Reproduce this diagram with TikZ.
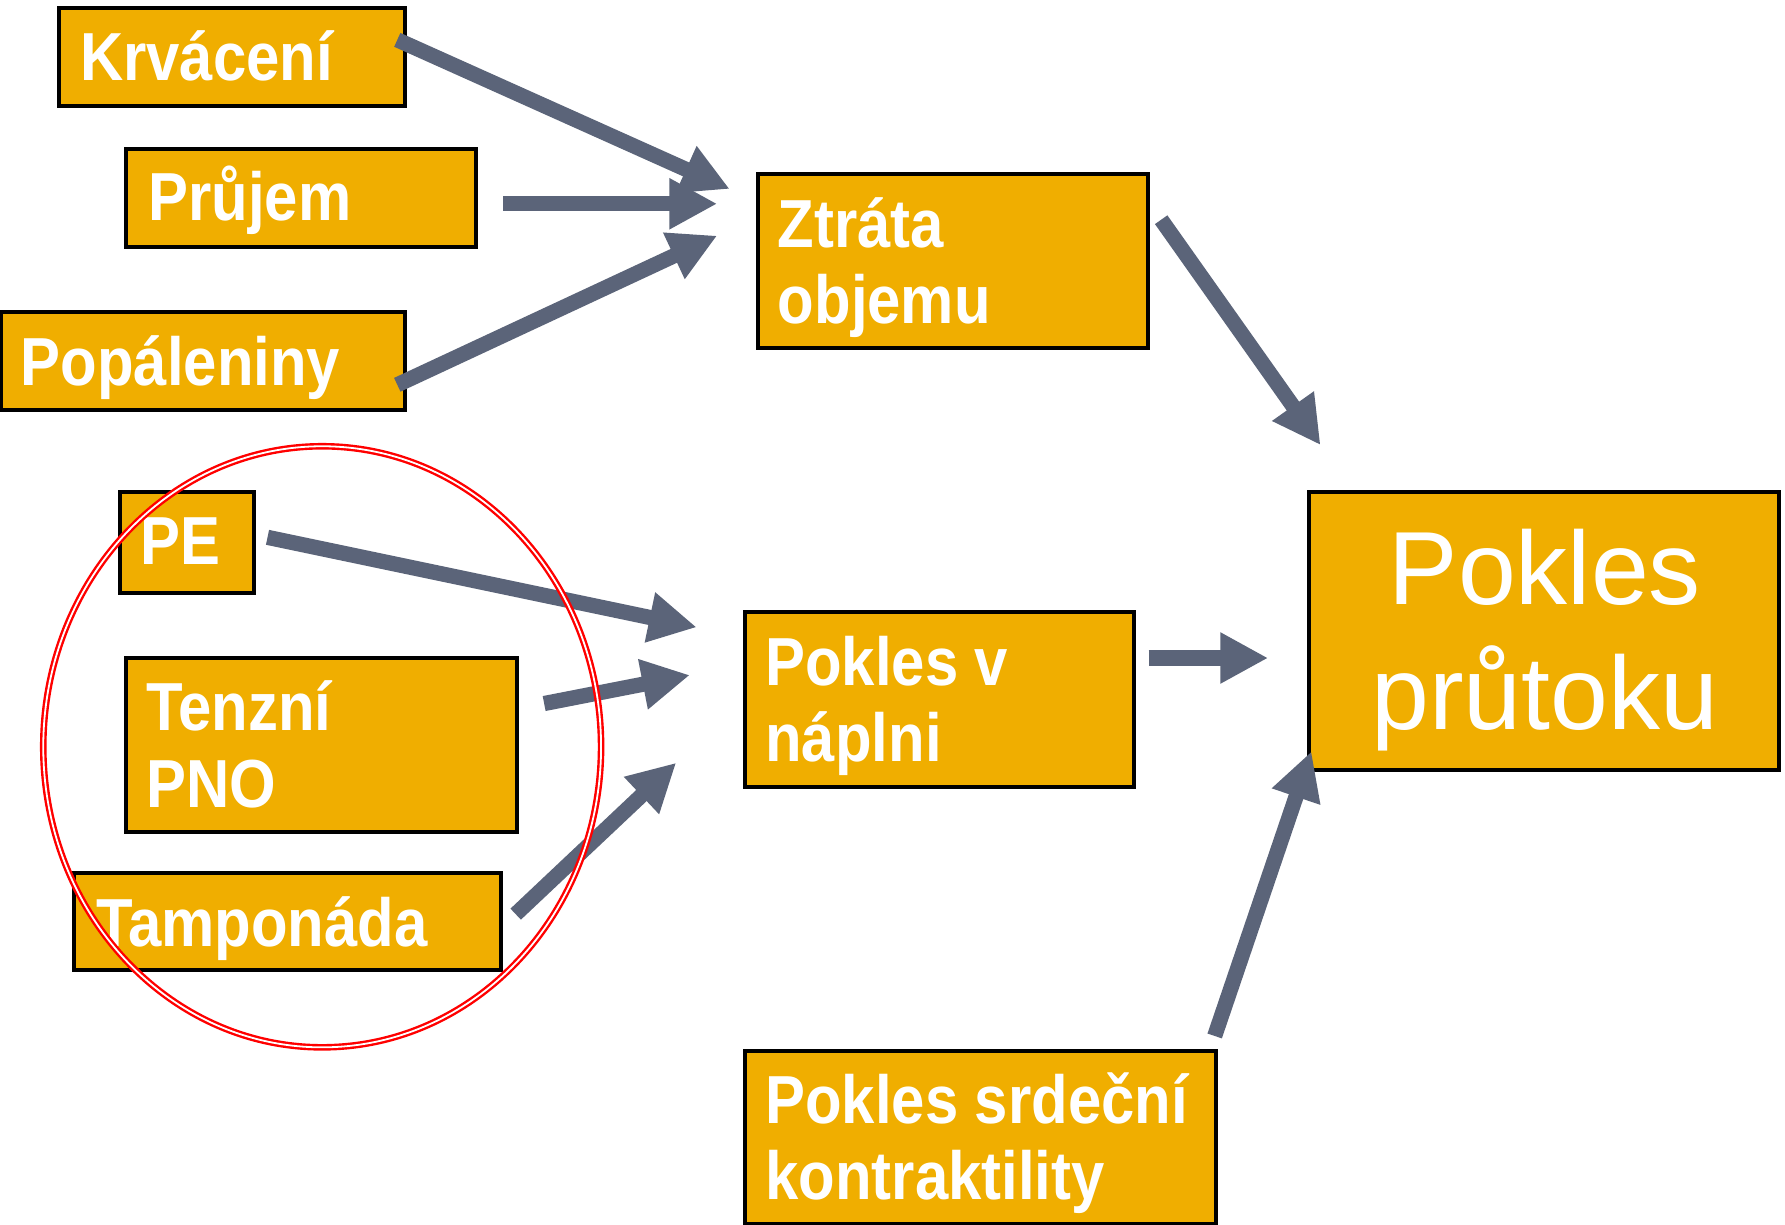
\documentclass[tikz,border=0pt]{standalone}
\usepackage{fontspec}
\setmainfont{Liberation Sans}
\newfontfamily\boxfont[FakeStretch=0.88]{Liberation Sans}
\usetikzlibrary{arrows.meta}
\definecolor{boxfill}{HTML}{F0AE00}
\definecolor{arrowgray}{HTML}{5B6479}
\begin{document}
\begin{tikzpicture}[x=0.02cm,y=-0.02cm,
  box/.style={draw=black,line width=2pt,fill=boxfill,anchor=north west,inner sep=0pt,outer sep=0pt},
  lbl/.style={anchor=base west,inner sep=0pt,text=white,align=left,
    font=\boxfont\bfseries\fontsize{34}{38.1}\selectfont},
  biglbl/.style={anchor=base,inner sep=0pt,text=white,align=center,
    font=\fontsize{52}{62.6}\selectfont},
  flow/.style={draw=arrowgray,line width=7.6pt,-{Triangle[length=0.84cm,width=0.84cm]}},
]
\useasboundingbox (0,0) rectangle (1568,1076);
\fill[white] (0,0) rectangle (1568,1076);

% boxes
\node[box,minimum width=304*0.02cm,minimum height=86*0.02cm] (krv) at (52,7) {};
\node[box,minimum width=307*0.02cm,minimum height=86*0.02cm] (pru) at (111,131) {};
\node[box,minimum width=355*0.02cm,minimum height=86*0.02cm] (pop) at (1,274) {};
\node[box,minimum width=342*0.02cm,minimum height=153*0.02cm] (ztr) at (666,153) {};
\node[box,minimum width=118*0.02cm,minimum height=89*0.02cm] (pe) at (105,432) {};
\node[box,minimum width=343*0.02cm,minimum height=153*0.02cm] (ten) at (111,578) {};
\node[box,minimum width=375*0.02cm,minimum height=85*0.02cm] (tam) at (65,767) {};
\node[box,minimum width=342*0.02cm,minimum height=153*0.02cm] (nap) at (654,538) {};
\node[box,minimum width=414*0.02cm,minimum height=152*0.02cm] (srd) at (654,923) {};
\node[box,minimum width=413*0.02cm,minimum height=244*0.02cm] (pro) at (1150,432) {};

% labels (anchor = baseline of last line)
\node[lbl] (krvt) at (70,71) {Krvácení};
\node[lbl] (prut) at (130,194) {Průjem};
\node[lbl] (popt) at (18,339) {Popáleniny};
\node[lbl] (ztrt) at (683,284) {Ztráta\\objemu};
\node[lbl] (pet) at (123,496) {PE};
\node[lbl] (tent) at (128,709) {Tenzní\\PNO};
\node[lbl] (tamt) at (84,831) {Tamponáda};
\node[lbl] (napt) at (672,669) {Pokles v\\náplni};
\node[lbl] (srdt) at (672,1054) {Pokles srdeční\\kontraktility};
\node[biglbl] (prot) at (1357,641) {Pokles\\průtoku};

% arrow end points
\coordinate (a1s) at (349,35);  \coordinate (a1e) at (641,166);
\coordinate (a2s) at (442,179); \coordinate (a2e) at (630,179);
\coordinate (a3s) at (349,338); \coordinate (a3e) at (630,207);
\coordinate (a4s) at (1020,193); \coordinate (a4e) at (1160,391);
\coordinate (a5s) at (235,472); \coordinate (a5e) at (612,551);
\coordinate (a6s) at (478,618); \coordinate (a6e) at (606,593);
\coordinate (a7s) at (453,803); \coordinate (a7e) at (594,670);
\coordinate (a8s) at (1009,578); \coordinate (a8e) at (1114,578);
\coordinate (a9s) at (1067,910); \coordinate (a9e) at (1152,660);

\draw[flow] (a1s) -- (a1e);
\draw[flow] (a2s) -- (a2e);
\draw[flow] (a3s) -- (a3e);
\draw[flow] (a4s) -- (a4e);
\draw[flow] (a5s) -- (a5e);
\draw[flow] (a6s) -- (a6e);
\draw[flow] (a7s) -- (a7e);
\draw[flow] (a8s) -- (a8e);
\draw[flow] (a9s) -- (a9e);

% red ellipse
\draw[red,line width=1.2pt,double=white,double distance=0.9pt] (283,656) ellipse [x radius=245,y radius=264];
\end{tikzpicture}
\end{document}
